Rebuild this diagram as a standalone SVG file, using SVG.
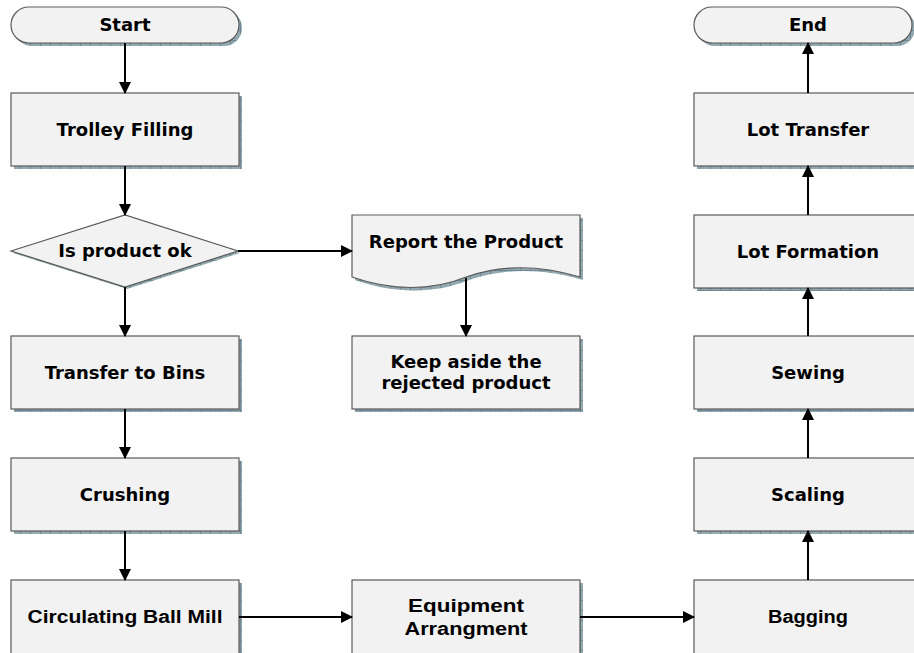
<svg xmlns="http://www.w3.org/2000/svg" width="914" height="653" viewBox="0 0 914 653">
  <defs>
    <pattern id="shadowTex" width="10" height="10" patternUnits="userSpaceOnUse">
      <rect width="10" height="10" fill="#93a9b1"/>
      <rect x="0" y="0" width="1" height="10" fill="#6f8a94"/>
      <rect x="0" y="0" width="10" height="1" fill="#6f8a94"/>
    </pattern>
    <marker id="arrow" markerWidth="12" markerHeight="12" refX="11" refY="6" orient="auto" markerUnits="userSpaceOnUse">
      <path d="M0,0 L12,6 L0,12 Z" fill="#000"/>
    </marker>
  </defs>
  <style>
    .shape { fill: #f2f2f2; stroke: #5a5a5a; stroke-width: 1.2; }
    .shadow { fill: url(#shadowTex); }
    .lbl { font-family: "DejaVu Sans", Verdana, sans-serif; font-weight: bold; font-size: 18px; fill: #000; text-anchor: middle; }
    .lbl2 { font-family: "Liberation Sans", Arial, sans-serif; font-weight: bold; font-size: 18px; fill: #000; text-anchor: middle; }
    .conn { stroke: #000; stroke-width: 2; fill: none; marker-end: url(#arrow); }
  </style>

  <rect width="914" height="653" fill="#fff"/>

  <!-- left column -->
  <g id="start">
    <rect class="shadow" x="14" y="10" width="228" height="36" rx="18"/>
    <rect class="shape" x="11" y="7" width="228" height="36" rx="18"/>
    <text class="lbl" x="125" y="31">Start</text>
  </g>
  <g id="trolley-filling">
    <rect class="shadow" x="14" y="96" width="228" height="73"/>
    <rect class="shape" x="11" y="93" width="228" height="73"/>
    <text class="lbl" x="125" y="136">Trolley Filling</text>
  </g>
  <g id="is-product-ok">
    <polygon class="shadow" points="13,253 127,217 240,253 127,289"/>
    <polygon class="shape" points="11,251 125,215 238,251 125,287"/>
    <text class="lbl" x="125" y="257">Is product ok</text>
  </g>
  <g id="transfer-to-bins">
    <rect class="shadow" x="14" y="339" width="228" height="73"/>
    <rect class="shape" x="11" y="336" width="228" height="73"/>
    <text class="lbl" x="125" y="379">Transfer to Bins</text>
  </g>
  <g id="crushing">
    <rect class="shadow" x="14" y="461" width="228" height="73"/>
    <rect class="shape" x="11" y="458" width="228" height="73"/>
    <text class="lbl" x="125" y="501">Crushing</text>
  </g>
  <g id="circulating-ball-mill">
    <rect class="shadow" x="14" y="583" width="228" height="80"/>
    <rect class="shape" x="11" y="580" width="228" height="80"/>
    <text class="lbl2" x="125" y="623" textLength="195" lengthAdjust="spacingAndGlyphs">Circulating Ball Mill</text>
  </g>

  <!-- middle column -->
  <g id="report-the-product">
    <path class="shadow" d="M355,218 H583 V280 C543,268 503,268 469,280 C435,294 395,294 355,280 Z"/>
    <path class="shape" d="M352,215 H580 V277 C540,265 500,265 466,277 C432,291 392,291 352,277 Z"/>
    <text class="lbl" x="466" y="248">Report the Product</text>
  </g>
  <g id="keep-aside">
    <rect class="shadow" x="355" y="339" width="228" height="73"/>
    <rect class="shape" x="352" y="336" width="228" height="73"/>
    <text class="lbl" x="466" y="368">Keep aside the</text>
    <text class="lbl" x="466" y="389">rejected product</text>
  </g>
  <g id="equipment-arrangment">
    <rect class="shadow" x="355" y="583" width="228" height="80"/>
    <rect class="shape" x="352" y="580" width="228" height="80"/>
    <text class="lbl2" x="466" y="612" textLength="116" lengthAdjust="spacingAndGlyphs">Equipment</text>
    <text class="lbl2" x="466" y="635" textLength="123" lengthAdjust="spacingAndGlyphs">Arrangment</text>
  </g>

  <!-- right column -->
  <g id="end">
    <rect class="shadow" x="697" y="10" width="218" height="36" rx="18"/>
    <rect class="shape" x="694" y="7" width="218" height="36" rx="18"/>
    <text class="lbl" x="808" y="31">End</text>
  </g>
  <g id="lot-transfer">
    <rect class="shadow" x="697" y="96" width="228" height="73"/>
    <rect class="shape" x="694" y="93" width="228" height="73"/>
    <text class="lbl" x="808" y="136">Lot Transfer</text>
  </g>
  <g id="lot-formation">
    <rect class="shadow" x="697" y="218" width="228" height="73"/>
    <rect class="shape" x="694" y="215" width="228" height="73"/>
    <text class="lbl" x="808" y="258">Lot Formation</text>
  </g>
  <g id="sewing">
    <rect class="shadow" x="697" y="339" width="228" height="73"/>
    <rect class="shape" x="694" y="336" width="228" height="73"/>
    <text class="lbl" x="808" y="379">Sewing</text>
  </g>
  <g id="scaling">
    <rect class="shadow" x="697" y="461" width="228" height="73"/>
    <rect class="shape" x="694" y="458" width="228" height="73"/>
    <text class="lbl" x="808" y="501">Scaling</text>
  </g>
  <g id="bagging">
    <rect class="shadow" x="697" y="583" width="228" height="80"/>
    <rect class="shape" x="694" y="580" width="228" height="80"/>
    <text class="lbl2" x="808" y="623" textLength="80" lengthAdjust="spacingAndGlyphs">Bagging</text>
  </g>

  <!-- connectors -->
  <g id="connectors">
    <line class="conn" x1="125" y1="43" x2="125" y2="93"/>
    <line class="conn" x1="125" y1="166" x2="125" y2="215"/>
    <line class="conn" x1="125" y1="287" x2="125" y2="336"/>
    <line class="conn" x1="125" y1="409" x2="125" y2="458"/>
    <line class="conn" x1="125" y1="531" x2="125" y2="580"/>
    <line class="conn" x1="238" y1="251" x2="352" y2="251"/>
    <line class="conn" x1="466" y1="278" x2="466" y2="336"/>
    <line class="conn" x1="239" y1="617" x2="352" y2="617"/>
    <line class="conn" x1="580" y1="617" x2="694" y2="617"/>
    <line class="conn" x1="808" y1="580" x2="808" y2="531"/>
    <line class="conn" x1="808" y1="458" x2="808" y2="409"/>
    <line class="conn" x1="808" y1="336" x2="808" y2="288"/>
    <line class="conn" x1="808" y1="215" x2="808" y2="166"/>
    <line class="conn" x1="808" y1="93" x2="808" y2="43"/>
  </g>
</svg>
